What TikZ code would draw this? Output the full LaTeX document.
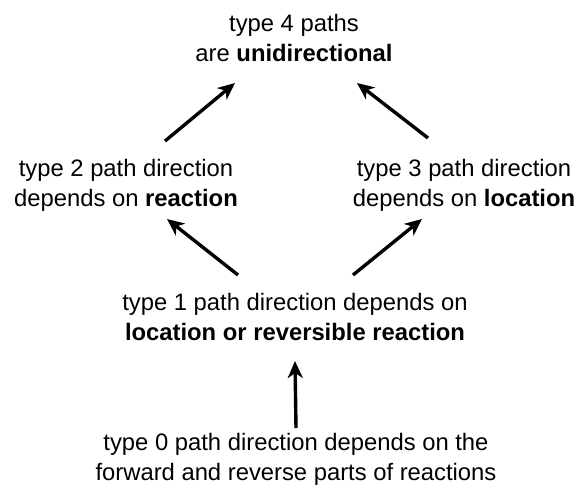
\documentclass[tikz,border=0pt]{standalone}
\usepackage{fontspec}
\setmainfont{Liberation Sans}
\usepackage{tikz}
\usetikzlibrary{arrows.meta}

\begin{document}
\begin{tikzpicture}[x=1pt,y=-1pt]
        \tikzstyle{pathtext}=[align=center,inner sep=0pt,font=\fontsize{23.8}{30}\selectfont]
        \tikzstyle{uparrow}=[line width=3.4pt,-{Stealth[length=17pt,width=15pt,inset=5pt]}]
        \useasboundingbox (0,0) rectangle (583,489);
        \node[pathtext] (t4) at (294,38) {type 4 paths\\are \textbf{unidirectional}};
        \node[pathtext] (t2) at (126,185) {type 2 path direction\\depends on \textbf{reaction}};
        \node[pathtext] (t3) at (464,185) {type 3 path direction\\depends on \textbf{location}};
        \node[pathtext] (t1) at (295,317) {type 1 path direction depends on\\\textbf{location or reversible reaction}};
        \node[pathtext] (t0) at (296,459) {type 0 path direction depends on the\\forward and reverse parts of reactions};
        \draw[uparrow] ([xshift=39pt,yshift=44pt]t2.center) -- ([xshift=-59pt,yshift=-45pt]t4.center);
        \draw[uparrow] ([xshift=-36pt,yshift=47pt]t3.center) -- ([xshift=63pt,yshift=-45pt]t4.center);
        \draw[uparrow] ([xshift=-57pt,yshift=42pt]t1.center) -- ([xshift=41pt,yshift=-34pt]t2.center);
        \draw[uparrow] ([xshift=58pt,yshift=42pt]t1.center) -- ([xshift=-42pt,yshift=-34pt]t3.center);
        \draw[uparrow] ([yshift=31pt]t0.center) -- ([yshift=-44pt]t1.center);
    \end{tikzpicture}
\end{document}
